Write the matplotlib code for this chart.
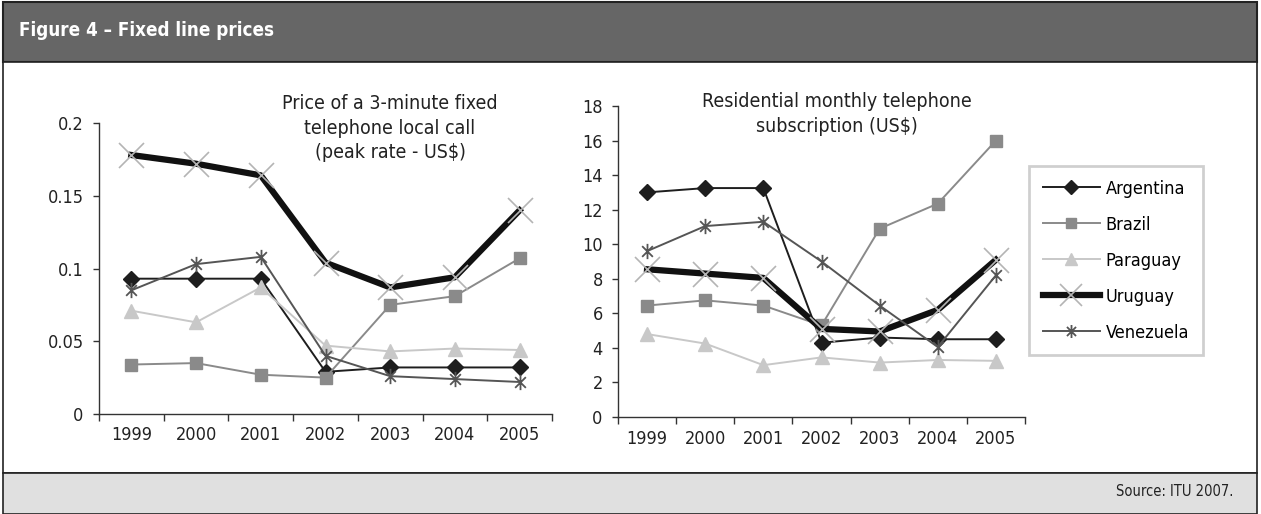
import numpy as np
import matplotlib.pyplot as plt
from matplotlib.patches import Rectangle
from matplotlib.path import Path

plt.rcParams['font.family'] = ['DejaVu Sans']
plt.rcParams['font.stretch'] = 'condensed'

years = ['1999', '2000', '2001', '2002', '2003', '2004', '2005']
countries = ['Argentina', 'Brazil', 'Paraguay', 'Uruguay', 'Venezuela']

# price of a 3-minute local call, peak rate (US$)
call_argentina = [0.093, 0.093, 0.093, 0.029, 0.032, 0.032, 0.032]
call_brazil = [0.034, 0.035, 0.027, 0.025, 0.075, 0.081, 0.107]
call_paraguay = [0.071, 0.063, 0.087, 0.047, 0.043, 0.045, 0.044]
call_uruguay = [0.178, 0.172, 0.164, 0.104, 0.087, 0.094, 0.140]
call_venezuela = [0.085, 0.103, 0.108, 0.040, 0.026, 0.024, 0.022]

# residential monthly subscription (US$)
sub_argentina = [13.0, 13.25, 13.25, 4.3, 4.6, 4.5, 4.5]
sub_brazil = [6.45, 6.75, 6.45, 5.3, 10.9, 12.35, 16.0]
sub_paraguay = [4.8, 4.25, 3.0, 3.45, 3.15, 3.3, 3.25]
sub_uruguay = [8.55, 8.3, 8.05, 5.1, 4.95, 6.2, 9.1]
sub_venezuela = [9.6, 11.05, 11.3, 9.0, 6.45, 4.05, 8.2]

call_data = [call_argentina, call_brazil, call_paraguay, call_uruguay, call_venezuela]
sub_data = [sub_argentina, sub_brazil, sub_paraguay, sub_uruguay, sub_venezuela]

# Excel-style star: an x with a vertical stroke
star = Path([(0, -1), (0, 1), (-0.7, -0.7), (0.7, 0.7), (-0.7, 0.7), (0.7, -0.7)],
            [Path.MOVETO, Path.LINETO, Path.MOVETO, Path.LINETO, Path.MOVETO, Path.LINETO])

styles = [
    dict(color='#1e1e1e', lw=1.4, marker='D', ms=8.5, mfc='#1e1e1e', mec='#1e1e1e', mew=1),
    dict(color='#8a8a8a', lw=1.4, marker='s', ms=9, mfc='#8a8a8a', mec='#8a8a8a', mew=1),
    dict(color='#c8c8c8', lw=1.4, marker='^', ms=10, mfc='#c8c8c8', mec='#c8c8c8', mew=1),
    dict(color='#111111', lw=4.5, marker='x', ms=18, mfc='none', mec='#b4b4b4', mew=1.2),
    dict(color='#555555', lw=1.4, marker=star, ms=11, mfc='none', mec='#555555', mew=1.3),
]

fig = plt.figure(figsize=(12.61, 5.14), dpi=100)

# frame: dark header, white body, light grey footer
W, H = 1261, 514
def fx(px):
    return px / W
def fy(py):
    return 1 - py / H

fig.patches.append(Rectangle((fx(3), fy(62)), fx(1257) - fx(3), fy(2) - fy(62),
                             transform=fig.transFigure, facecolor='#666666',
                             edgecolor='#222222', lw=1.5, zorder=-5))
fig.patches.append(Rectangle((fx(3), fy(473)), fx(1257) - fx(3), fy(62) - fy(473),
                             transform=fig.transFigure, facecolor='white',
                             edgecolor='#222222', lw=1.2, zorder=-5))
fig.patches.append(Rectangle((fx(3), 0), fx(1257) - fx(3), fy(473),
                             transform=fig.transFigure, facecolor='#e0e0e0',
                             edgecolor='#222222', lw=1.2, zorder=-5))

fig.text(fx(19), fy(31), 'Figure 4 \u2013 Fixed line prices', color='white',
         fontsize=13.5, fontweight='bold', va='center', ha='left')
fig.text(fx(1233), fy(491), 'Source: ITU 2007.', color='#222222',
         fontsize=10.5, va='center', ha='right')

x = np.arange(len(years))


def setup(ax, ylim, yticks, ylabels):
    ax.set_xlim(-0.5, len(years) - 0.5)
    ax.set_ylim(*ylim)
    ax.set_yticks(yticks)
    ax.set_yticklabels(ylabels)
    ax.set_xticks(x)
    ax.set_xticklabels(years)
    ax.set_xticks(np.arange(-0.5, len(years)), minor=True)
    ax.tick_params(axis='x', which='major', length=0, pad=9, labelsize=13, colors='#222222')
    ax.tick_params(axis='x', which='minor', length=5, width=1, color='#333333')
    ax.tick_params(axis='y', length=4, width=1, color='#333333', labelsize=13,
                   labelcolor='#222222', pad=7)
    for s in ['top', 'right']:
        ax.spines[s].set_visible(False)
    for s in ['left', 'bottom']:
        ax.spines[s].set_color('#333333')
        ax.spines[s].set_linewidth(1)
    ax.patch.set_alpha(0)


ax1 = fig.add_axes([fx(99), fy(414), fx(552) - fx(99), fy(123) - fy(414)])
ax2 = fig.add_axes([fx(618), fy(417), fx(1025) - fx(618), fy(106) - fy(417)])

setup(ax1, (0, 0.2), [0, 0.05, 0.1, 0.15, 0.2], ['0', '0.05', '0.1', '0.15', '0.2'])
setup(ax2, (0, 18), list(range(0, 19, 2)), [str(v) for v in range(0, 19, 2)])

for ax, data in [(ax1, call_data), (ax2, sub_data)]:
    for name, vals, st in zip(countries, data, styles):
        ax.plot(x, vals, label=name, clip_on=False, **st)

fig.text(fx(390), fy(128), 'Price of a 3-minute fixed\ntelephone local call\n(peak rate - US$)',
         ha='center', va='center', fontsize=14, color='#222222', linespacing=1.38)
fig.text(fx(837), fy(114), 'Residential monthly telephone\nsubscription (US$)',
         ha='center', va='center', fontsize=14, color='#222222', linespacing=1.38)

handles, labels = ax2.get_legend_handles_labels()
leg = fig.legend(handles, labels, loc='upper left',
                 bbox_to_anchor=(fx(1029), fy(166)), bbox_transform=fig.transFigure,
                 fontsize=13, frameon=True, fancybox=False, handlelength=3.2,
                 handletextpad=0.3, labelspacing=1.0, borderpad=0.75, borderaxespad=0,
                 markerscale=0.85)
leg.get_frame().set_edgecolor('#c4c4c4')
leg.get_frame().set_linewidth(2)

fig.savefig('out.png', dpi=100)
